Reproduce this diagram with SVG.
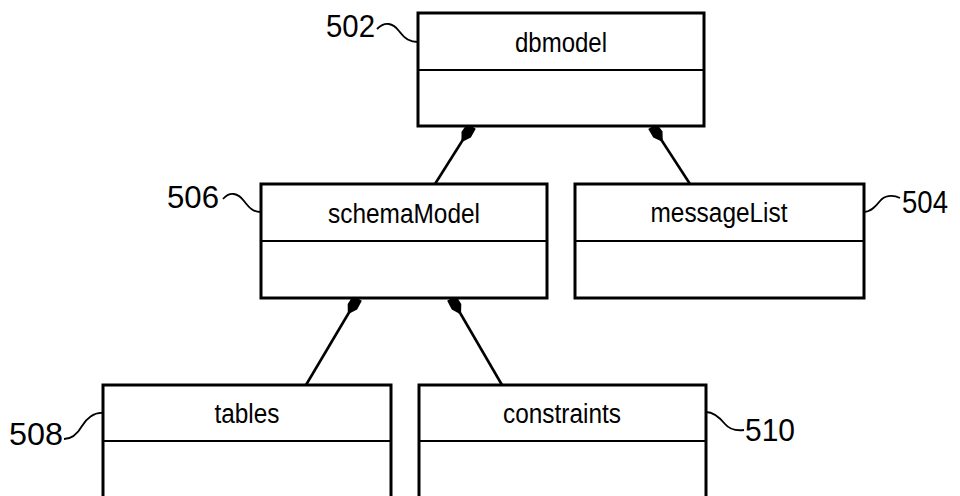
<svg xmlns="http://www.w3.org/2000/svg" width="960" height="496" viewBox="0 0 960 496">
<defs>
<style>
.box{fill:#fff;stroke:#000;stroke-width:3}
.div{stroke:#000;stroke-width:2}
.name{font-family:"Liberation Sans",Arial,sans-serif;font-size:27px;fill:#000;text-anchor:middle}
.ref{font-family:"Liberation Sans",Arial,sans-serif;font-size:31px;fill:#000}
.lead{fill:none;stroke:#000;stroke-width:1.8}
.conn{fill:none;stroke:#000;stroke-width:2.6}
</style>
<marker id="dia" markerUnits="userSpaceOnUse" markerWidth="20" markerHeight="14" refX="0" refY="0" viewBox="-2 -7 20 14" orient="auto" overflow="visible">
<path d="M-1,-5 L9,-5.5 L16,-1.2 L16,1.2 L9,5.5 L-1,5 Z" fill="#000"/>
</marker>
</defs>
<rect width="960" height="496" fill="#fff"/>
<g id="connectors">
<path class="conn" d="M471,127 L435,184" marker-start="url(#dia)"/>
<path class="conn" d="M653,127 L690,184" marker-start="url(#dia)"/>
<path class="conn" d="M357,299 L306,385" marker-start="url(#dia)"/>
<path class="conn" d="M452,299 L502,385" marker-start="url(#dia)"/>
</g>
<g id="dbmodel">
<rect class="box" x="418" y="13" width="286" height="113"/>
<line class="div" x1="418" y1="70" x2="704" y2="70"/>
<text class="name" x="561" y="52" textLength="92" lengthAdjust="spacingAndGlyphs">dbmodel</text>
<text class="ref" x="326" y="37" textLength="49" lengthAdjust="spacingAndGlyphs">502</text>
<path class="lead" d="M377,29 C385,21 393,23 399,31 S410,42 418,42"/>
</g>
<g id="schemaModel">
<rect class="box" x="261" y="184" width="286" height="114"/>
<line class="div" x1="261" y1="241" x2="547" y2="241"/>
<text class="name" x="404" y="223" textLength="152" lengthAdjust="spacingAndGlyphs">schemaModel</text>
<text class="ref" x="167" y="208" textLength="52" lengthAdjust="spacingAndGlyphs">506</text>
<path class="lead" d="M223,199 C230,191 238,193 244,201 S254,212 261,212"/>
</g>
<g id="messageList">
<rect class="box" x="575" y="184" width="289" height="114"/>
<line class="div" x1="575" y1="241" x2="864" y2="241"/>
<text class="name" x="719" y="222" textLength="137" lengthAdjust="spacingAndGlyphs">messageList</text>
<text class="ref" x="902" y="213" textLength="46" lengthAdjust="spacingAndGlyphs">504</text>
<path class="lead" d="M864,212 C871,212 876,206 880,201 S892,194 900,198"/>
</g>
<g id="tables">
<rect class="box" x="103" y="385" width="288" height="120"/>
<line class="div" x1="103" y1="441" x2="391" y2="441"/>
<text class="name" x="247" y="423" textLength="65" lengthAdjust="spacingAndGlyphs">tables</text>
<text class="ref" x="9" y="445" textLength="54" lengthAdjust="spacingAndGlyphs">508</text>
<path class="lead" d="M64,439 C72,439 78,433 82,426 S94,412 103,413"/>
</g>
<g id="constraints">
<rect class="box" x="419" y="385" width="287" height="120"/>
<line class="div" x1="419" y1="441" x2="706" y2="441"/>
<text class="name" x="562" y="423" textLength="118" lengthAdjust="spacingAndGlyphs">constraints</text>
<text class="ref" x="745" y="441" textLength="50" lengthAdjust="spacingAndGlyphs">510</text>
<path class="lead" d="M706,412 C714,412 720,418 725,424 S736,431 744,430"/>
</g>
</svg>
